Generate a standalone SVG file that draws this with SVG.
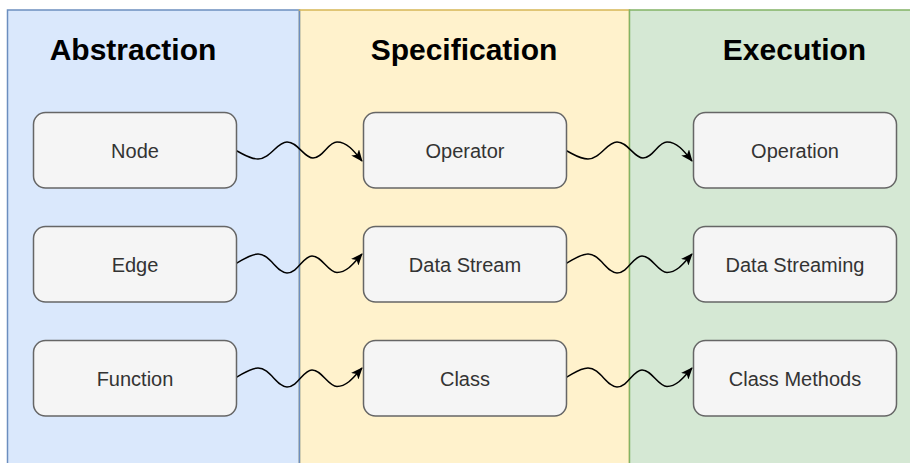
<svg xmlns="http://www.w3.org/2000/svg" width="910" height="463" viewBox="0 0 910 463">
  <style>
    .title { font-family: "Liberation Sans", Arial, sans-serif; font-weight: bold; font-size: 30px; fill: #000; text-anchor: middle; }
    .box rect { fill: #f5f5f5; stroke: #666666; stroke-width: 1.5; }
    .box text { font-family: "Liberation Sans", Arial, sans-serif; font-size: 20px; fill: #333333; text-anchor: middle; }
    .wave { fill: none; stroke: #000; stroke-width: 1.5; marker-end: url(#arrow); }
  </style>
  <defs>
    <marker id="arrow" viewBox="0 0 12 10" refX="11" refY="5" markerWidth="12" markerHeight="10" markerUnits="userSpaceOnUse" orient="auto">
      <path d="M0,0 L12,5 L0,10 L3,5 Z" fill="#000"/>
    </marker>
  </defs>

  <!-- swimlane backgrounds -->
  <g id="lanes">
    <rect x="7.5" y="10" width="292" height="470" fill="#dae8fc" stroke="#6c8ebf" stroke-width="1.5"/>
    <rect x="299.5" y="10" width="330" height="470" fill="#fff2cc" stroke="#d6b656" stroke-width="1.5"/>
    <rect x="629.5" y="10" width="320" height="470" fill="#d5e8d4" stroke="#82b366" stroke-width="1.5"/>
    <rect x="298.75" y="10.75" width="1.5" height="470" fill="#6c8ebf"/>
  </g>

  <g id="titles">
    <text class="title" x="133" y="60">Abstraction</text>
    <text class="title" x="464" y="60">Specification</text>
    <text class="title" x="794.5" y="60">Execution</text>
  </g>

  <!-- connectors -->
  <g id="connectors">
    <path class="wave" d="M236,150.5 C245,155 250,159 258,159 C270,159 277,142 287,142 C298,142 304,158 313,158 C323,158 328,142 337,142 C347,142 354,151 362,161"/>
    <path class="wave" d="M566,150.5 C575,155 580,159 588,159 C600,159 607,142 617,142 C628,142 634,158 643,158 C653,158 658,142 667,142 C677,142 684,151 692,161"/>
    <path class="wave" d="M236,263.5 C243,260 250,254 258,254 C270,254 277,273 287,273 C298,273 303,256 312,256 C322,256 328,272.5 337,272.5 C347,272.5 354,263 362,254"/>
    <path class="wave" d="M566,263.5 C573,260 580,254 588,254 C600,254 607,273 617,273 C628,273 633,256 642,256 C652,256 658,272.5 667,272.5 C677,272.5 684,263 692,254"/>
    <path class="wave" d="M236,377.5 C243,374 250,368 258,368 C270,368 277,387 287,387 C298,387 303,370 312,370 C322,370 328,386.5 337,386.5 C347,386.5 354,377 362,368"/>
    <path class="wave" d="M566,377.5 C573,374 580,368 588,368 C600,368 607,387 617,387 C628,387 633,370 642,370 C652,370 658,386.5 667,386.5 C677,386.5 684,377 692,368"/>
  </g>

  <!-- nodes -->
  <g id="node-node" class="box">
    <rect x="33.5" y="112.5" width="203" height="75.5" rx="12"/>
    <text x="135" y="157.5">Node</text>
  </g>
  <g id="node-edge" class="box">
    <rect x="33.5" y="226.5" width="203" height="75.5" rx="12"/>
    <text x="135" y="271.5">Edge</text>
  </g>
  <g id="node-function" class="box">
    <rect x="33.5" y="340.5" width="203" height="75.5" rx="12"/>
    <text x="135" y="385.5">Function</text>
  </g>
  <g id="node-operator" class="box">
    <rect x="363.5" y="112.5" width="203" height="75.5" rx="12"/>
    <text x="465" y="157.5">Operator</text>
  </g>
  <g id="node-data-stream" class="box">
    <rect x="363.5" y="226.5" width="203" height="75.5" rx="12"/>
    <text x="465" y="271.5">Data Stream</text>
  </g>
  <g id="node-class" class="box">
    <rect x="363.5" y="340.5" width="203" height="75.5" rx="12"/>
    <text x="465" y="385.5">Class</text>
  </g>
  <g id="node-operation" class="box">
    <rect x="693.5" y="112.5" width="203" height="75.5" rx="12"/>
    <text x="795" y="157.5">Operation</text>
  </g>
  <g id="node-data-streaming" class="box">
    <rect x="693.5" y="226.5" width="203" height="75.5" rx="12"/>
    <text x="795" y="271.5">Data Streaming</text>
  </g>
  <g id="node-class-methods" class="box">
    <rect x="693.5" y="340.5" width="203" height="75.5" rx="12"/>
    <text x="795" y="385.5">Class Methods</text>
  </g>
</svg>
